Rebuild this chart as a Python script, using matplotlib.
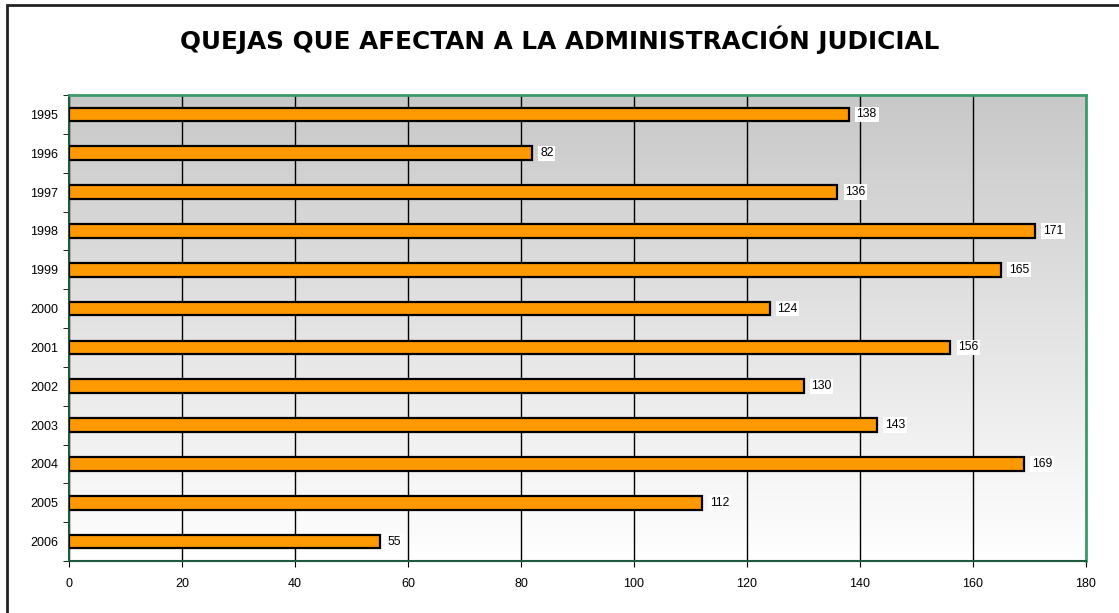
import matplotlib.pyplot as plt
import numpy as np
from matplotlib.patches import Rectangle

years = ['1995', '1996', '1997', '1998', '1999', '2000',
         '2001', '2002', '2003', '2004', '2005', '2006']
quejas = [138, 82, 136, 171, 165, 124, 156, 130, 143, 169, 112, 55]
xticks = [0, 20, 40, 60, 80, 100, 120, 140, 160, 180]

plt.rcParams['font.family'] = ['Liberation Sans', 'DejaVu Sans']

fig = plt.figure(figsize=(11.19, 6.13), dpi=100)
ax = fig.add_axes([69 / 1119, 1 - 561 / 613, (1086 - 69) / 1119, (561 - 95) / 613])

# marco exterior
fig.patches.append(Rectangle((7 / 1119, -0.1), 1.2, 1 - 5 / 613 + 0.1,
                             transform=fig.transFigure, fill=False,
                             edgecolor='#222222', lw=2))

fig.text(0.5, 1 - 40 / 613, 'QUEJAS QUE AFECTAN A LA ADMINISTRACIÓN JUDICIAL',
         ha='center', va='center', fontsize=17.8, fontweight='bold',
         family=['DejaVu Sans'])

# fondo degradado gris -> blanco
grad = np.linspace(0, 1, 256).reshape(-1, 1)
ax.imshow(grad, cmap=plt.matplotlib.colors.LinearSegmentedColormap.from_list(
    'g', ['#c8c8c8', '#ffffff']), aspect='auto', extent=[0, 180, 11.5, -0.5],
    origin='upper', zorder=0)

y = np.arange(len(years))
ax.barh(y, quejas, height=0.35, color='#FF9900', edgecolor='black', lw=1.6, zorder=3)
for yi, v in zip(y, quejas):
    ax.text(v + 1.4, yi, str(v), va='center', ha='left', fontsize=8.8, zorder=4,
            bbox=dict(facecolor='white', edgecolor='none', pad=1.2))

ax.set_xlim(0, 180)
ax.set_ylim(11.5, -0.5)
ax.set_xticks(xticks)
ax.set_yticks(y)
ax.set_yticklabels(years)
ax.set_yticks(np.arange(-0.5, 12, 1), minor=True)
ax.tick_params(axis='y', which='major', length=0, labelsize=9, pad=8)
ax.tick_params(axis='y', which='minor', length=4, direction='out')
ax.tick_params(axis='x', length=4, direction='out', labelsize=9, pad=8)
ax.grid(axis='x', color='black', lw=1, zorder=1)
ax.set_axisbelow(True)

for side in ['top', 'right']:
    ax.spines[side].set_color('#3d9b6b')
    ax.spines[side].set_linewidth(2)
for side in ['left', 'bottom']:
    ax.spines[side].set_color('#1f5a3c')
    ax.spines[side].set_linewidth(1.5)

fig.savefig('out.png', dpi=100)
